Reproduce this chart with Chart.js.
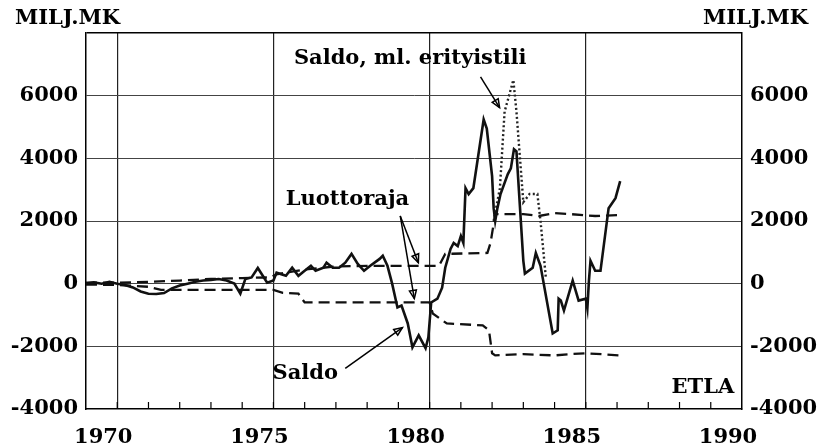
<!DOCTYPE html>
<html>
<head>
<meta charset="utf-8">
<script src="https://cdn.jsdelivr.net/npm/chart.js@4"></script>
<style>
  html, body { margin: 0; padding: 0; background: #fff; }
</style>
</head>
<body>
<canvas id="chart" width="821" height="447"></canvas>
<script>
// Saldo (solid line)
var saldoYears = [1969.0, 1969.25, 1969.5, 1969.75, 1970.0, 1970.25, 1970.5, 1970.75, 1971.0, 1971.25,
  1971.5, 1971.75, 1972.0, 1972.25, 1972.5, 1972.75, 1973.0, 1973.25, 1973.5, 1973.75,
  1973.94, 1974.1, 1974.3, 1974.5, 1974.8, 1975.0, 1975.1, 1975.4, 1975.6, 1975.8,
  1976.0, 1976.2, 1976.35, 1976.6, 1976.7, 1976.9, 1977.1, 1977.3, 1977.5, 1977.7,
  1977.9, 1978.1, 1978.4, 1978.5, 1978.65, 1978.8, 1978.97, 1979.1, 1979.3, 1979.45,
  1979.65, 1979.87, 1979.96, 1980.05, 1980.25, 1980.4, 1980.5, 1980.67, 1980.77, 1980.9,
  1981.0, 1981.08, 1981.15, 1981.25, 1981.4, 1981.73, 1981.83, 1982.0, 1982.05, 1982.1,
  1982.17, 1982.27, 1982.5, 1982.6, 1982.7, 1982.78, 1983.0, 1983.05, 1983.3, 1983.4,
  1983.55, 1983.94, 1984.1, 1984.13, 1984.2, 1984.3, 1984.58, 1984.77, 1985.0, 1985.05,
  1985.1, 1985.15, 1985.3, 1985.47, 1985.73, 1985.95, 1986.1];
var saldoValues = [0, 40, 0, 60, 0, -40, -120, -250, -320, -330,
  -300, -150, -60, 0, 60, 100, 120, 150, 100, 0,
  -320, 150, 200, 500, 30, 100, 350, 250, 510, 250,
  410, 570, 410, 510, 670, 510, 510, 670, 950, 630,
  410, 570, 790, 890, 570, 0, -760, -700, -1270, -2030,
  -1650, -2060, -1710, -600, -480, -130, 510, 1110, 1300, 1200,
  1520, 1300, 3050, 2860, 3050, 5240, 4950, 3430, 2410, 2000,
  2410, 2860, 3490, 3680, 4290, 4220, 730, 320, 510, 980,
  570, -1590, -1490, -480, -540, -860, 95, -540, -480, -790,
  95, 730, 410, 410, 2410, 2730, 3270];

// Saldo, ml. erityistili (dotted line)
var erityisYears = [1982.05, 1982.25, 1982.4, 1982.55, 1982.68, 1982.78, 1983.0, 1983.2, 1983.45, 1983.55, 1983.72];
var erityisValues = [2000, 3050, 5490, 6030, 6500, 5490, 2600, 2860, 2860, 2000, 200];

// Luottoraja, upper and lower (dashed lines)
var rajaYlaYears = [1969, 1970, 1971, 1972, 1973, 1974, 1974.9, 1975.1, 1976, 1977, 1978.3, 1980.3,
  1980.5, 1981.85, 1981.95, 1982.1, 1983, 1983.5, 1984, 1984.5, 1985.3, 1986.05];
var rajaYlaValues = [30, 30, 60, 100, 150, 180, 200, 300, 450, 550, 570, 570,
  950, 980, 1300, 2220, 2220, 2160, 2250, 2220, 2160, 2190];
var rajaAlaYears = [1969, 1970, 1971, 1971.4, 1975, 1975.3, 1975.8, 1976.0, 1980.0, 1980.1,
  1980.55, 1981.7, 1981.9, 1982.0, 1982.1, 1983, 1984, 1984.5, 1985, 1986.1];
var rajaAlaValues = [-30, -40, -100, -200, -200, -290, -320, -600, -600, -950,
  -1270, -1330, -1490, -2220, -2290, -2250, -2290, -2250, -2220, -2290];

var xMin = 1969, xMax = 1990;
var yMin = -4000, yMax = 8000, yStep = 2000;

// labels and arrows in data units
var texts = [
  { text: "Saldo, ml. erityistili", x: 1979.38, y: 7200, align: "center" },
  { text: "Luottoraja", x: 1977.37, y: 2700, align: "center" },
  { text: "Saldo", x: 1976.02, y: -2860, align: "center" },
  { text: "ETLA", x: 1989.75, y: -3330, align: "right" }
];
var arrows = [
  [1981.63, 6600, 1982.24, 5620],
  [1979.06, 2160, 1979.64, 670],
  [1979.06, 2160, 1979.51, -480],
  [1977.3, -2700, 1979.13, -1400]
];

function pts(xs, ys) {
  var out = [];
  for (var i = 0; i < xs.length; i++) out.push({ x: xs[i], y: ys[i] });
  return out;
}

var FONT = '"DejaVu Serif", serif';

var extras = {
  id: "extras",
  afterDraw: function(chart) {
    var ctx = chart.ctx;
    var sx = chart.scales.x, sy = chart.scales.y;
    var area = chart.chartArea;
    ctx.save();

    // minor year ticks along the bottom
    ctx.strokeStyle = "#000";
    ctx.lineWidth = 1.2;
    for (var yr = xMin + 1; yr < xMax; yr++) {
      var px = sx.getPixelForValue(yr);
      ctx.beginPath();
      ctx.moveTo(px, area.bottom);
      ctx.lineTo(px, area.bottom - 7);
      ctx.stroke();
    }

    ctx.fillStyle = "#000";
    ctx.font = "bold 21px " + FONT;
    ctx.textBaseline = "top";
    ctx.textAlign = "left";
    ctx.fillText("MILJ.MK", 15, 8);
    ctx.textAlign = "right";
    ctx.fillText("MILJ.MK", 808, 8);

    ctx.textBaseline = "middle";
    texts.forEach(function(t) {
      ctx.textAlign = t.align;
      ctx.fillText(t.text, sx.getPixelForValue(t.x), sy.getPixelForValue(t.y));
    });

    ctx.lineWidth = 1.5;
    arrows.forEach(function(a) {
      var x1 = sx.getPixelForValue(a[0]), y1 = sy.getPixelForValue(a[1]);
      var x2 = sx.getPixelForValue(a[2]), y2 = sy.getPixelForValue(a[3]);
      ctx.beginPath();
      ctx.moveTo(x1, y1);
      ctx.lineTo(x2, y2);
      ctx.stroke();
      var ang = Math.atan2(y2 - y1, x2 - x1);
      var len = 9;
      ctx.beginPath();
      ctx.moveTo(x2, y2);
      ctx.lineTo(x2 - len * Math.cos(ang - 0.4), y2 - len * Math.sin(ang - 0.4));
      ctx.lineTo(x2 - len * Math.cos(ang + 0.4), y2 - len * Math.sin(ang + 0.4));
      ctx.closePath();
      ctx.stroke();
    });
    ctx.restore();
  }
};

Chart.defaults.font.family = FONT;
Chart.defaults.font.weight = "bold";
Chart.defaults.font.size = 21;
Chart.defaults.color = "#000";

new Chart(document.getElementById("chart"), {
  type: "line",
  data: {
    datasets: [
      {
        label: "Saldo",
        data: pts(saldoYears, saldoValues),
        borderColor: "#111",
        borderWidth: 2.6
      },
      {
        label: "Saldo, ml. erityistili",
        data: pts(erityisYears, erityisValues),
        borderColor: "#222",
        borderWidth: 2.4,
        borderDash: [2, 2.5]
      },
      {
        label: "Luottoraja",
        data: pts(rajaYlaYears, rajaYlaValues),
        borderColor: "#111",
        borderWidth: 2.3,
        borderDash: [11, 6]
      },
      {
        label: "Luottoraja ala",
        data: pts(rajaAlaYears, rajaAlaValues),
        borderColor: "#111",
        borderWidth: 2.3,
        borderDash: [11, 6]
      }
    ]
  },
  options: {
    responsive: false,
    animation: false,
    elements: { point: { radius: 0 }, line: { tension: 0 } },
    layout: { padding: { top: 33, left: 0, right: 0, bottom: 0 } },
    plugins: { legend: { display: false }, tooltip: { enabled: false } },
    scales: {
      x: {
        type: "linear",
        min: xMin,
        max: xMax,
        ticks: {
          stepSize: 1,
          autoSkip: false,
          maxRotation: 0,
          padding: 16,
          labelOffset: -14,
          callback: function(v) { return v % 5 === 0 ? String(v) : ""; }
        },
        grid: {
          drawTicks: false,
          color: function(c) {
            var v = c.tick.value;
            return (v % 5 === 0 && v > xMin && v < xMax) ? "#222" : "rgba(0,0,0,0)";
          },
          lineWidth: 1.2
        },
        border: { color: "#000", width: 1.5 },
        afterFit: function(s) { s.height = 38; }
      },
      y: {
        position: "left",
        min: yMin,
        max: yMax,
        ticks: {
          stepSize: yStep,
          padding: 8,
          callback: function(v) { return v === yMax ? "" : String(v); }
        },
        grid: {
          drawTicks: false,
          color: function(c) {
            var v = c.tick.value;
            if (v === yMax) return "#000";
            return v === yMin ? "rgba(0,0,0,0)" : "#444";
          },
          lineWidth: function(c) { return c.tick.value === yMax ? 1.5 : 1; }
        },
        border: { color: "#000", width: 1.5 },
        afterFit: function(s) { s.width = 86; }
      },
      y2: {
        position: "right",
        min: yMin,
        max: yMax,
        ticks: {
          stepSize: yStep,
          padding: 8,
          callback: function(v) { return v === yMax ? "" : String(v); }
        },
        grid: { display: false, drawTicks: false },
        border: { color: "#000", width: 1.5 },
        afterFit: function(s) { s.width = 79; }
      }
    }
  },
  plugins: [extras]
});
</script>
</body>
</html>
